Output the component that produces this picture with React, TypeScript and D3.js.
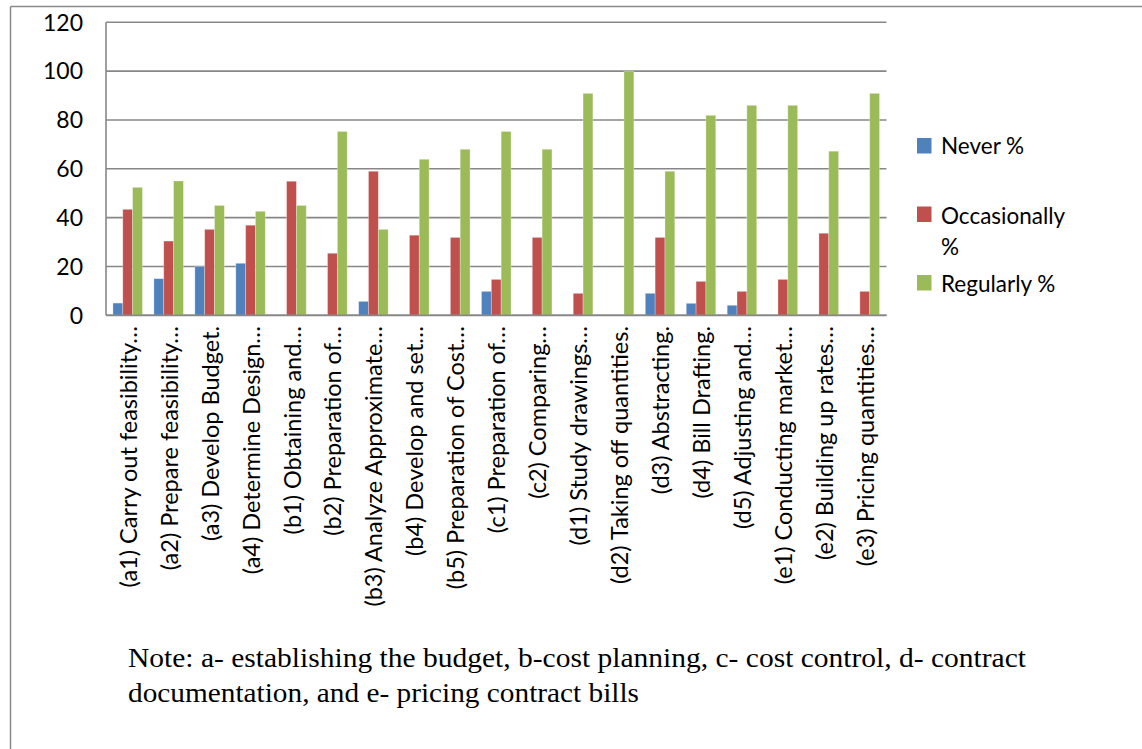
import React from "react";
import * as d3 from "d3";

// Survey items (tasks) shown along the x axis
const categories = [
  "(a1) Carry out feasibility…",
  "(a2) Prepare feasibility…",
  "(a3) Develop Budget.",
  "(a4) Determine Design…",
  "(b1) Obtaining and…",
  "(b2) Preparation of…",
  "(b3) Analyze Approximate…",
  "(b4) Develop and set…",
  "(b5) Preparation of Cost…",
  "(c1) Preparation of…",
  "(c2) Comparing…",
  "(d1) Study drawings…",
  "(d2) Taking off quantities.",
  "(d3) Abstracting.",
  "(d4) Bill Drafting.",
  "(d5) Adjusting and…",
  "(e1) Conducting market…",
  "(e2) Building up rates…",
  "(e3) Pricing quantities…",
];

const seriesNames = ["Never %", "Occasionally %", "Regularly %"];

const neverPct = [5, 15, 20, 21.3, 0, 0, 5.7, 0, 0, 9.8, 0, 0, 0, 9, 4.9, 4.1, 0, 0, 0];
const occasionallyPct = [43.4, 30.4, 35.2, 36.9, 54.9, 25.4, 59, 32.8, 31.9, 14.7, 31.9, 9, 0, 31.9, 13.9, 9.8, 14.7, 33.6, 9.8];
const regularlyPct = [52.4, 55, 45, 42.6, 45, 75.3, 35.2, 63.9, 68, 75.3, 68, 90.9, 100, 59, 81.9, 86, 86, 67.2, 90.9];

const yTicks = [0, 20, 40, 60, 80, 100, 120];

const noteLines = [
  "Note: a- establishing the budget, b-cost planning, c- cost control, d- contract",
  "documentation, and e- pricing contract bills",
];
const noteWidths = [898, 511];

const colors = ["#4F81BD", "#C0504D", "#9BBB59"];

const W = 1142;
const H = 749;
const plot = { left: 106, right: 886.5, top: 22.3, bottom: 315.3 };
const FONT = "Lato, 'Open Sans', sans-serif";

export default function App() {
  const series = [neverPct, occasionallyPct, regularlyPct];

  const x0 = d3
    .scaleBand<string>()
    .domain(categories)
    .range([plot.left, plot.right])
    .paddingInner(0.28)
    .paddingOuter(0.17);

  const x1 = d3
    .scaleBand<string>()
    .domain(seriesNames)
    .range([0, x0.bandwidth()])
    .padding(0);

  const y = d3.scaleLinear().domain([0, 120]).range([plot.bottom, plot.top]);

  return (
    <svg
      width={W}
      height={H}
      style={{ position: "absolute", left: 0, top: 0, display: "block", background: "#fff" }}
    >
      {/* outer frame */}
      <line x1={10.5} y1={6.5} x2={W} y2={6.5} stroke="#8a8a8a" strokeWidth={1.5} />
      <line x1={10.5} y1={6.5} x2={10.5} y2={H} stroke="#8a8a8a" strokeWidth={1.5} />

      {/* gridlines */}
      {yTicks.map((t) => (
        <line
          key={`g${t}`}
          x1={plot.left}
          x2={plot.right}
          y1={y(t)}
          y2={y(t)}
          stroke="#878787"
          strokeWidth={1.6}
        />
      ))}
      {/* y axis line */}
      <line x1={plot.left} x2={plot.left} y1={plot.top} y2={plot.bottom} stroke="#878787" strokeWidth={1.6} />

      {/* y tick labels */}
      {yTicks.map((t) => (
        <text
          key={`yl${t}`}
          x={83}
          y={y(t)}
          dy="0.36em"
          textAnchor="end"
          fontFamily={FONT}
          fontSize={23}
          fill="#000"
        >
          {t}
        </text>
      ))}

      {/* bars */}
      {categories.map((c, i) => (
        <g key={`grp${i}`} transform={`translate(${x0(c)},0)`}>
          {series.map((vals, s) => {
            const v = vals[i];
            if (!v) return null;
            return (
              <rect
                key={`b${s}`}
                x={x1(seriesNames[s])}
                y={y(v)}
                width={x1.bandwidth()}
                height={y(0) - y(v)}
                fill={colors[s]}
                stroke="rgba(255,255,255,0.35)"
                strokeWidth={0.8}
              />
            );
          })}
        </g>
      ))}

      {/* x axis line drawn over the bars */}
      <line x1={plot.left} x2={plot.right} y1={y(0)} y2={y(0)} stroke="#878787" strokeWidth={1.8} />

      {/* x category labels */}
      {categories.map((c) => {
        const cx = (x0(c) as number) + x0.bandwidth() / 2 + 9;
        const ty = 326;
        return (
          <text
            key={`xl${c}`}
            transform={`translate(${cx},${ty}) rotate(-90)`}
            textAnchor="end"
            fontFamily={FONT}
            fontSize={23.5}
            fill="#000"
          >
            {c}
          </text>
        );
      })}

      {/* legend */}
      {[
        { lines: ["Never %"], sy: 138, ty: 154 },
        { lines: ["Occasionally", "%"], sy: 206.5, ty: 224 },
        { lines: ["Regularly %"], sy: 275, ty: 292 },
      ].map((l, i) => (
        <g key={`lg${i}`}>
          <rect x={917} y={l.sy} width={14.5} height={15.5} fill={colors[i]} />
          {l.lines.map((ln, j) => (
            <text
              key={`lt${j}`}
              x={941}
              y={l.ty + j * 31}
              fontFamily={FONT}
              fontSize={22.5}
              fill="#000"
            >
              {ln}
            </text>
          ))}
        </g>
      ))}

      {/* note */}
      {noteLines.map((ln, i) => (
        <text
          key={`n${i}`}
          x={128}
          y={667.3 + i * 35}
          fontFamily="'Liberation Serif', 'Times New Roman', serif"
          fontSize={27.5}
          textLength={noteWidths[i]}
          lengthAdjust="spacingAndGlyphs"
          fill="#000"
        >
          {ln}
        </text>
      ))}
    </svg>
  );
}
